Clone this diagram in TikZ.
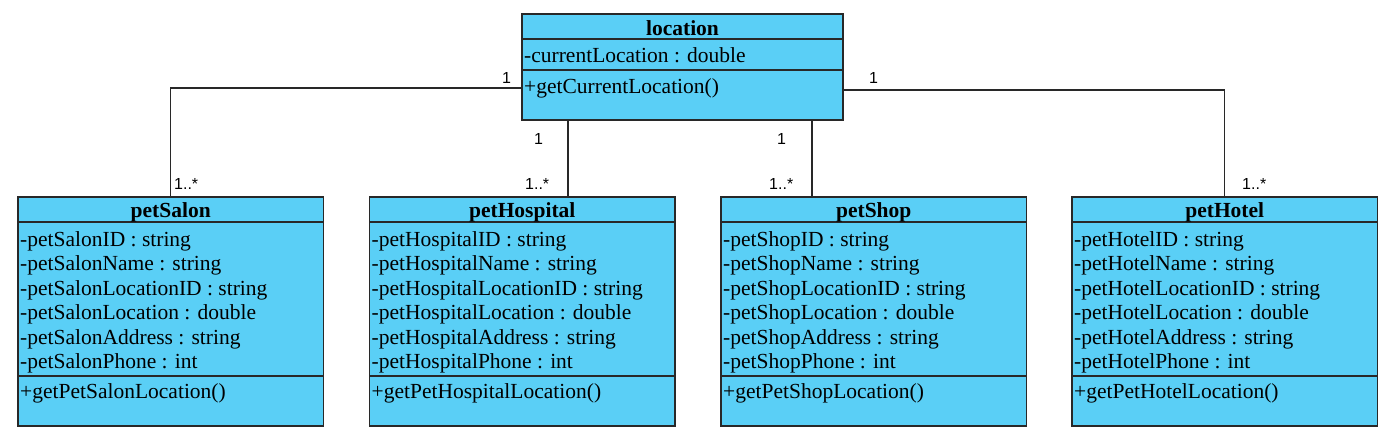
\documentclass[tikz,border=0pt]{standalone}
\usepackage{fontspec}
\setmainfont{Liberation Serif}
\newfontfamily\labelfont{Liberation Sans}
\definecolor{clsfill}{RGB}{90,207,246}
\definecolor{edge}{RGB}{40,40,40}
\begin{document}
\begin{tikzpicture}[x=1pt,y=-1pt,
  clsbox/.style={draw=edge, line width=1.3pt, fill=clsfill, anchor=north west, inner sep=0pt, outer sep=0pt},
  sep/.style={draw=edge, line width=1.3pt},
  hdr/.style={font=\fontsize{21.5}{24.5}\selectfont\bfseries, anchor=base, inner sep=0pt},
  member/.style={font=\fontsize{21.5}{24.5}\selectfont, anchor=base west, inner sep=0pt},
  mult/.style={font=\labelfont\fontsize{16}{18}\selectfont, anchor=base west, inner sep=0pt},
  conn/.style={draw=edge, line width=1.2pt}]
\useasboundingbox (0,0) rectangle (1394,445);
% location class
\node[clsbox, minimum width=321pt, minimum height=106pt] (loc) at (522,14) {};
\draw[sep] (loc.west |- 0,39) -- (loc.east |- 0,39);
\draw[sep] (loc.west |- 0,70) -- (loc.east |- 0,70);
\node[hdr] (loct) at (682.5,35) {location};
\node[member] (loca) at (524,62) {-currentLocation : double};
\node[member] (locm) at (524,93) {+getCurrentLocation()};
% lower classes
\foreach \nm/\lbl/\x in {salon/Salon/18, hosp/Hospital/369.5, shop/Shop/721, hotel/Hotel/1072}{
  \node[clsbox, minimum width=305.5pt, minimum height=229pt] (\nm) at (\x,197) {};
  \draw[sep] (\nm.west |- 0,222) -- (\nm.east |- 0,222);
  \draw[sep] (\nm.west |- 0,376) -- (\nm.east |- 0,376);
  \node[hdr] (\nm-t) at ([xshift=0pt]\nm.north |- 0,217) {pet\lbl};
  \node[member] (\nm-a1) at (\x+2,246) {-pet\lbl ID : string};
  \node[member] (\nm-a2) at (\x+2,270.5) {-pet\lbl Name : string};
  \node[member] (\nm-a3) at (\x+2,295) {-pet\lbl LocationID : string};
  \node[member] (\nm-a4) at (\x+2,319.5) {-pet\lbl Location : double};
  \node[member] (\nm-a5) at (\x+2,344) {-pet\lbl Address : string};
  \node[member] (\nm-a6) at (\x+2,368.5) {-pet\lbl Phone : int};
  \node[member] (\nm-m) at (\x+2,398) {+getPet\lbl Location()};
}
% connectors
\draw[conn] (loc.west |- 0,88) -| (salon.north);
\draw[conn] (loc.south -| 568,0) -- (hosp.north -| 568,0);
\draw[conn] (loc.south -| 812,0) -- (shop.north -| 812,0);
\draw[conn] (loc.east |- 0,90) -| (hotel.north);
% multiplicities
\node[mult] (m1) at (502,83) {1};
\node[mult] (m2) at (174,189) {1..*};
\node[mult] (m3) at (534,144) {1};
\node[mult] (m4) at (525,189) {1..*};
\node[mult] (m5) at (777,144) {1};
\node[mult] (m6) at (769,189) {1..*};
\node[mult] (m7) at (869,83) {1};
\node[mult] (m8) at (1242,189) {1..*};
\end{tikzpicture}
\end{document}
